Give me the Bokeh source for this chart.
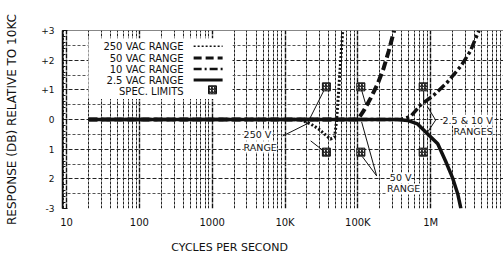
import numpy as np
from bokeh.plotting import figure
from bokeh.models import FixedTicker, Label, BoxAnnotation, Span, Range1d, LogAxis
from bokeh.embed import file_html
from bokeh.resources import INLINE

# ---------------- data ----------------
freq_250 = [20, 16e3, 22.5e3, 29e3, 36e3, 42e3, 48e3, 51e3, 54.5e3, 58e3, 62e3]
db_250 = [0, 0, -0.15, -0.32, -0.52, -0.66, -0.59, -0.05, 0.96, 1.97, 3.0]

freq_50 = [20, 100e3, 120e3, 150e3, 187e3, 226e3, 265e3, 315e3]
db_50 = [0, 0, 0.29, 0.72, 1.2, 1.73, 2.3, 3.0]

freq_10 = [20, 390e3, 530e3, 730e3, 1.1e6, 1.7e6, 2.6e6, 3.5e6, 4.6e6]
db_10 = [0, 0, 0.1, 0.49, 0.82, 1.26, 1.8, 2.3, 3.0]

freq_2_5 = [20, 350e3, 480e3, 660e3, 910e3, 1.25e6, 1.6e6, 2.0e6, 2.35e6, 2.6e6]
db_2_5 = [0, 0, -0.03, -0.15, -0.49, -0.82, -1.4, -1.97, -2.5, -3.0]

spec_freq = [37e3, 37e3, 110e3, 110e3, 790e3, 790e3]
spec_db = [1.1, -1.1, 1.1, -1.1, 1.1, -1.1]

x_ticks = [10, 100, 1000, 10000, 100000, 1000000]
x_tick_labels = ["10", "100", "1000", "10K", "100K", "1M"]
y_ticks = [-3, -2, -1, 0, 1, 2, 3]
y_tick_labels = ["-3", "2", "1", "0", "+1", "+2", "+3"]

legend_labels = ["250 VAC RANGE", "50 VAC RANGE", "10 VAC RANGE", "2.5 VAC RANGE", "SPEC. LIMITS"]

x_title = "CYCLES PER SECOND"
y_title = "RESPONSE (DB) RELATIVE TO 10KC"

# ---------------- styles ----------------
FONT = "DejaVu Sans"
INK = "#111111"
styles = [
    dict(line_width=3, line_dash="2 2"),          # 250 VAC
    dict(line_width=4, line_dash="9 4"),          # 50 VAC
    dict(line_width=3.5, line_dash="9 3 3 3"),    # 10 VAC
    dict(line_width=3.5),                         # 2.5 VAC
]
legend_styles = [
    dict(line_width=1.5, line_dash="2 2"),
    dict(line_width=3, line_dash="8 4"),
    dict(line_width=2.5, line_dash="8 3 2 3"),
    dict(line_width=3),
]
hatch = dict(marker="square", size=8, fill_color="white", line_color=INK, line_width=1,
             hatch_pattern="/", hatch_color=INK, hatch_scale=3, hatch_weight=1.2)

p = figure(width=503, height=256, x_axis_type="log",
           x_range=Range1d(8.8, 1e7), y_range=Range1d(-3, 3),
           output_backend="svg", toolbar_location=None,
           min_border_left=62, min_border_right=0, min_border_top=30, min_border_bottom=48)
p.outline_line_color = None
p.background_fill_color = "white"
p.border_fill_color = "white"

# ---- grid (log paper) ----
decades = [10.0 ** n for n in range(0, 8)]
minor_x = [k * 10.0 ** n for n in range(0, 7) for k in range(2, 10)]
p.xgrid.ticker = FixedTicker(ticks=decades, minor_ticks=minor_x)
p.xgrid.grid_line_color = INK
p.xgrid.grid_line_width = 1.4
p.xgrid.grid_line_dash = "5 1"
p.xgrid.minor_grid_line_color = "#222222"
p.xgrid.minor_grid_line_width = 1
p.xgrid.minor_grid_line_dash = "3 1"

p.ygrid.ticker = FixedTicker(ticks=y_ticks, minor_ticks=[v + 0.5 for v in y_ticks[:-1]])
p.ygrid.grid_line_color = "#222222"
p.ygrid.grid_line_width = 1
p.ygrid.grid_line_dash = "4 2"
p.ygrid.minor_grid_line_color = "#555555"
p.ygrid.minor_grid_line_dash = "3 2"

p.add_layout(Span(location=3, dimension="width", line_color=INK, line_width=1))

# ---- axes ----
xa = p.xaxis[0]
xa.ticker = FixedTicker(ticks=x_ticks)
xa.major_label_overrides = dict(zip(x_ticks, x_tick_labels))
xa.axis_line_color = None
xa.major_tick_line_color = None
xa.minor_tick_line_color = None
xa.major_tick_in = 0
xa.major_tick_out = 0
xa.minor_tick_in = 0
xa.minor_tick_out = 0
xa.major_label_standoff = 8
xa.major_label_text_font = FONT
xa.major_label_text_font_size = "10px"
xa.major_label_text_color = INK

# x title as a single-label axis, so it can sit left of centre like the original
title_pos = 1734
xt = LogAxis(ticker=FixedTicker(ticks=[title_pos]),
             major_label_overrides={title_pos: x_title},
             axis_line_color=None, major_tick_line_color=None, minor_tick_line_color=None,
             major_tick_in=0, major_tick_out=0, minor_tick_in=0, minor_tick_out=0,
             major_label_standoff=10, major_label_text_font=FONT,
             major_label_text_font_size="11px", major_label_text_color=INK)
p.add_layout(xt, "below")

ya = p.yaxis[0]
ya.ticker = FixedTicker(ticks=y_ticks, minor_ticks=list(np.round(np.arange(-3, 3.01, 0.2), 2)))
ya.major_label_overrides = dict(zip(y_ticks, y_tick_labels))
ya.axis_line_color = INK
ya.axis_line_width = 1.5
ya.major_tick_in = 5
ya.major_tick_out = 0
ya.minor_tick_in = 3
ya.minor_tick_out = 0
ya.major_tick_line_color = INK
ya.minor_tick_line_color = INK
ya.major_label_standoff = 8
ya.major_label_text_font = FONT
ya.major_label_text_font_size = "9px"
ya.major_label_text_color = INK
ya.axis_label = y_title
ya.axis_label_standoff = 19
ya.axis_label_text_font = FONT
ya.axis_label_text_font_size = "12px"
ya.axis_label_text_font_style = "normal"
ya.axis_label_text_color = INK

# ---- white legend panel on the paper ----
legend_box = BoxAnnotation(left=20, right=1900, bottom=0.69, top=2.74,
                           fill_color="white", fill_alpha=1, line_color=None, level="underlay")
p.add_layout(legend_box)

# ---- curves ----
series = [(freq_250, db_250), (freq_50, db_50), (freq_10, db_10), (freq_2_5, db_2_5)]
for (fx, dy), st in zip(series, styles):
    p.line(fx, dy, line_color=INK, line_join="round", **st)

# ---- spec limit markers ----
p.scatter(spec_freq, spec_db, **hatch)

# ---- leader lines (annotation) ----
leaders = [
    (9.3e3, -0.556, 21.1e3, -0.118),
    (33.9e3, 0.96, 20.4e3, -0.12),
    (33.9e3, -1.06, 22.5e3, -0.72),
    (112.7e3, 0.99, 128e3, 0.52),
    (116e3, -1.26, 181e3, -1.90),
    (181e3, -1.90, 112.7e3, -0.08),
    (802e3, 0.93, 802e3, 0.52),
    (802e3, -0.56, 802e3, -0.93),
    (1.17e6, -0.02, 0.91e6, 0.42),
    (1.17e6, -0.02, 0.91e6, -0.42),
]
p.segment([l[0] for l in leaders], [l[1] for l in leaders],
          [l[2] for l in leaders], [l[3] for l in leaders],
          line_color=INK, line_width=1)

# ---- legend (text left, sample right) ----
leg_text_x = 405
leg_rows = [2.47, 2.07, 1.70, 1.33, 0.96]
for lab, yy in zip(legend_labels, leg_rows):
    p.add_layout(Label(x=leg_text_x, y=yy, text=lab, text_align="right", text_baseline="middle",
                       text_font=FONT, text_font_size="10px", text_color=INK))
for st, yy in zip(legend_styles, leg_rows[:4]):
    p.line([556, 1390], [yy, yy], line_color=INK, **st)
p.scatter([1010], [leg_rows[4] + 0.04], **hatch)

# ---- curve annotations ----
def note(x, y, text, align):
    p.add_layout(Label(x=x, y=y, text=text, text_align=align, text_baseline="middle",
                       text_font=FONT, text_font_size="9.5px", text_color=INK,
                       background_fill_color="white", background_fill_alpha=1))

note(2.7e3, -0.52, "250 V", "left")
note(2.7e3, -0.93, "RANGE", "left")
note(387e3, -1.97, "50 V", "center")
note(426e3, -2.34, "RANGE", "center")
note(7.1e6, -0.02, "2.5 & 10 V", "right")
note(7.1e6, -0.42, "RANGES", "right")

open("out.html", "w").write(file_html(p, INLINE))
